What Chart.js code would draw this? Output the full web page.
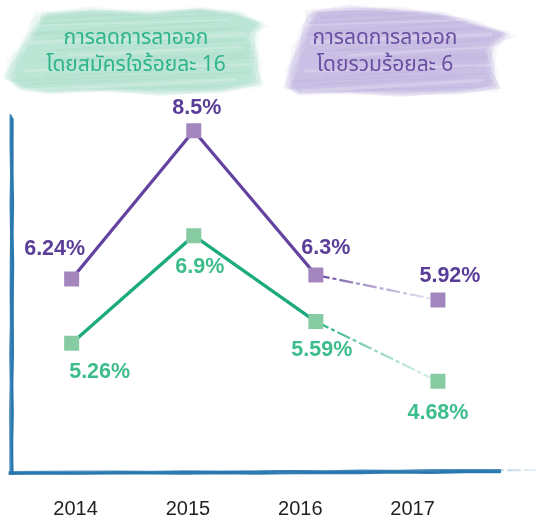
<!DOCTYPE html>
<html>
<head>
<meta charset="utf-8">
<script src="https://cdn.jsdelivr.net/npm/chart.js@4"></script>
<style>
  html, body { margin: 0; padding: 0; background: #fff; }
  #wrap { position: relative; width: 556px; height: 521px; overflow: hidden; }
  #c { position: absolute; left: 0; top: 0; }
  .head {
    position: absolute; top: 24px; width: 250px; text-align: center;
    font-family: "Noto Sans Thai", "Noto Sans Thai UI", "Noto Sans", "DejaVu Sans", sans-serif;
    font-size: 21px; line-height: 27px; white-space: nowrap;
  }
  #h1 { left: 11px; color: #2eb587; }
  #h2 { left: 260px; color: #6a4ea2; }
</style>
</head>
<body>
<div id="wrap">
  <canvas id="c" width="556" height="521"></canvas>
  <div class="head" id="h1">การลดการลาออก<br>โดยสมัครใจร้อยละ 16</div>
  <div class="head" id="h2">การลดการลาออก<br>โดยรวมร้อยละ 6</div>
</div>
<script>
// Attrition reduction rates by year (%)
const years = ['2014', '2015', '2016', '2017'];
const yearTicks = [2014, 2015, 2016, 2017];
const overallRate = [6.24, 8.5, 6.3, 5.92];     // overall attrition
const voluntaryRate = [5.26, 6.9, 5.59, 4.68];  // voluntary attrition

const PURPLE = { line: '#6443a0', point: '#a386be', text: '#5a3d97', rgb: '100,67,160' };
const GREEN  = { line: '#1cab7e', point: '#86cba1', text: '#3dbd8c', rgb: '28,171,126' };

// label offsets from each marker (px)
const purpleLabelOffset = [[-17, -30], [3, -23], [10, -27], [12, -24]];
const greenLabelOffset  = [[28, 29], [6, 31], [6, 29], [0, 32]];

// wobble helper for the hand-drawn look (deterministic)
function wob(i, k) { return Math.sin(i * 12.9898 + k * 78.233) * 0.5 + Math.sin(i * 3.7 + k * 1.3) * 0.5; }

function tracePath(ctx, outline, jx, jy, layer) {
  ctx.beginPath();
  outline.forEach((p, i) => {
    const x = p[0] + wob(i, layer) * jx;
    const y = p[1] + wob(i + 7, layer + 3) * jy;
    if (i === 0) ctx.moveTo(x, y); else ctx.lineTo(x, y);
  });
  ctx.closePath();
}

function brush(ctx, outline, rgb, dark) {
  ctx.save();
  for (let layer = 0; layer < 9; layer++) {
    tracePath(ctx, outline, 8, 4, layer);
    ctx.fillStyle = 'rgba(' + rgb + ',' + (0.055 + 0.02 * (layer % 3)) + ')';
    ctx.fill();
  }
  const xs = outline.map(p => p[0]), ys = outline.map(p => p[1]);
  const x0 = Math.min(...xs), x1 = Math.max(...xs), y0 = Math.min(...ys), y1 = Math.max(...ys);
  tracePath(ctx, outline, 0, 0, 0);
  ctx.clip();
  for (let s = 0; s < 22; s++) {
    const yy = y0 + (y1 - y0) * (s + 0.5) / 22;
    ctx.beginPath();
    ctx.moveTo(x0 + 30 + wob(s, 1) * 30, yy + wob(s, 2) * 3);
    ctx.lineTo(x1 - 20 + wob(s, 3) * 30, yy - 8 + wob(s, 4) * 3);
    ctx.strokeStyle = s % 4 === 0 ? 'rgba(255,255,255,0.2)' : 'rgba(' + dark + ',0.05)';
    ctx.lineWidth = 1 + Math.abs(wob(s, 5)) * 3;
    ctx.stroke();
  }
  ctx.restore();
}

const greenBrush = [[42,14],[90,10],[150,13],[200,9],[240,14],[262,24],[252,34],[256,60],[258,84],
  [220,91],[160,93],[100,90],[50,92],[22,89],[8,78],[14,60],[28,40],[36,24]];
const purpleBrush = [[312,12],[350,8],[400,10],[440,14],[470,22],[508,34],[490,48],[492,70],[496,88],
  [460,92],[400,94],[340,92],[300,93],[288,88],[292,70],[298,48],[306,28]];

const decorPlugin = {
  id: 'decor',
  beforeDraw(chart) {
    const ctx = chart.ctx;
    brush(ctx, greenBrush, '120,200,170', '70,160,125');
    brush(ctx, purpleBrush, '150,128,200', '100,80,165');

    // hand-drawn frame
    const area = chart.chartArea;
    const left = area.left + 1, top = area.top, bottom = area.bottom - 24;
    ctx.save();
    ctx.lineCap = 'round';
    for (let k = 0; k < 3; k++) {
      ctx.strokeStyle = 'rgba(39,118,174,' + (0.8 + 0.08 * k) + ')';
      ctx.lineWidth = 2.2;
      ctx.beginPath();
      ctx.moveTo(left + (k - 1) * 1.0, top + k * 2);
      for (let j = 1; j <= 12; j++) {
        ctx.lineTo(left + (k - 1) * 1.0 + wob(j, k) * 0.6, top + (bottom - top) * j / 12);
      }
      ctx.stroke();
    }
    const xEnd = 500;
    for (let k = 0; k < 3; k++) {
      ctx.strokeStyle = 'rgba(39,118,174,' + (0.8 + 0.08 * k) + ')';
      ctx.lineWidth = 2.2;
      ctx.beginPath();
      ctx.moveTo(left - 2, bottom + (k - 1) * 1.0);
      for (let j = 1; j <= 14; j++) {
        ctx.lineTo(left + (xEnd - left) * j / 14, bottom + (k - 1) * 1.0 + wob(j, k + 4) * 0.6 - j * 0.12);
      }
      ctx.stroke();
    }
    // fading tail of the base line
    const g = ctx.createLinearGradient(xEnd - 60, 0, 536, 0);
    g.addColorStop(0, 'rgba(39,118,174,0.8)');
    g.addColorStop(1, 'rgba(39,118,174,0.08)');
    ctx.strokeStyle = g;
    ctx.lineWidth = 2;
    ctx.setLineDash([12, 5]);
    ctx.beginPath();
    ctx.moveTo(xEnd - 60, bottom - 2);
    ctx.lineTo(536, bottom - 3);
    ctx.stroke();
    ctx.restore();
  },
  afterDatasetsDraw(chart) {
    const ctx = chart.ctx;
    ctx.save();
    ctx.font = 'bold 21.5px "Liberation Sans", Arial, sans-serif';
    ctx.textAlign = 'center';
    ctx.textBaseline = 'middle';
    chart.data.datasets.forEach((ds, di) => {
      const meta = chart.getDatasetMeta(di);
      meta.data.forEach((pt, i) => {
        const off = ds.labelOffset[i];
        ctx.fillStyle = ds.labelColor;
        ctx.fillText(ds.data[i] + '%', pt.x + off[0], pt.y + off[1]);
      });
    });
    ctx.restore();
  }
};

function fadeSegment(rgb) {
  return (sctx) => {
    if (sctx.p0DataIndex !== 2) return undefined;
    const g = sctx.chart.ctx.createLinearGradient(sctx.p0.x, sctx.p0.y, sctx.p1.x, sctx.p1.y);
    g.addColorStop(0, 'rgba(' + rgb + ',1)');
    g.addColorStop(0.4, 'rgba(' + rgb + ',0.55)');
    g.addColorStop(1, 'rgba(' + rgb + ',0.12)');
    return g;
  };
}

new Chart(document.getElementById('c'), {
  type: 'line',
  data: {
    labels: years,
    datasets: [
      {
        data: voluntaryRate,
        borderColor: GREEN.line, borderWidth: 3.3,
        pointStyle: 'rect', pointRadius: 10.6, pointBorderWidth: 0,
        pointBackgroundColor: GREEN.point,
        labelColor: GREEN.text, labelOffset: greenLabelOffset,
        segment: {
          borderColor: fadeSegment(GREEN.rgb),
          borderWidth: (s) => s.p0DataIndex === 2 ? 2.2 : undefined,
          borderDash: (s) => s.p0DataIndex === 2 ? [14, 3, 4, 3] : undefined
        }
      },
      {
        data: overallRate,
        borderColor: PURPLE.line, borderWidth: 3.3,
        pointStyle: 'rect', pointRadius: 10.6, pointBorderWidth: 0,
        pointBackgroundColor: PURPLE.point,
        labelColor: PURPLE.text, labelOffset: purpleLabelOffset,
        segment: {
          borderColor: fadeSegment(PURPLE.rgb),
          borderWidth: (s) => s.p0DataIndex === 2 ? 2.2 : undefined,
          borderDash: (s) => s.p0DataIndex === 2 ? [14, 3, 4, 3] : undefined
        }
      }
    ]
  },
  options: {
    responsive: false,
    animation: false,
    devicePixelRatio: 1,
    layout: { padding: { left: 9, right: 57, top: 115, bottom: 0 } },
    plugins: { legend: { display: false }, tooltip: { enabled: false }, title: { display: false } },
    scales: {
      x: { type: 'category', display: false, offset: true },
      xl: {
        type: 'linear', position: 'bottom',
        min: 2013.4215, max: 2017.769,
        afterBuildTicks: (scale) => { scale.ticks = yearTicks.map(v => ({ value: v })); },
        grid: { display: false, drawTicks: false },
        border: { display: false },
        ticks: {
          padding: 0,
          color: '#231f20',
          font: { family: '"Liberation Sans", Arial, sans-serif', size: 20 },
          callback: (v) => String(v)
        }
      },
      y: { display: false, min: 2.915, max: 8.74 }
    }
  },
  plugins: [decorPlugin]
});
</script>
</body>
</html>
